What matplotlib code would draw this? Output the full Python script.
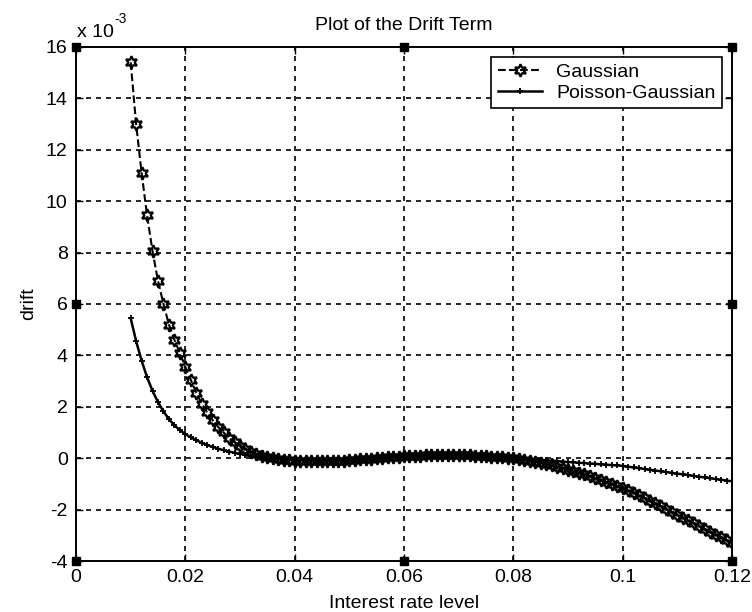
import numpy as np
import matplotlib.pyplot as plt

# interest rate grid (step 0.001)
rate = [round(0.010 + 0.001 * i, 3) for i in range(111)]

# drift values, in units of 1e-3
gaussian = [
    15.4, 13.0, 11.1, 9.45, 8.05, 6.9, 6.0, 5.2, 4.6, 4.1,
    3.55, 3.05, 2.55, 2.12, 1.78, 1.48, 1.22, 1.0, 0.8, 0.63,
    0.48, 0.36, 0.26, 0.17, 0.1, 0.04, 0.0, -0.03, -0.06, -0.08,
    -0.09, -0.1, -0.11, -0.12, -0.12, -0.12, -0.11, -0.11, -0.1, -0.09,
    -0.08, -0.06, -0.05, -0.03, -0.02, 0.0, 0.01, 0.03, 0.04, 0.06,
    0.07, 0.08, 0.09, 0.1, 0.11, 0.12, 0.12, 0.13, 0.13, 0.13,
    0.12, 0.12, 0.11, 0.1, 0.09, 0.08, 0.06, 0.05, 0.03, 0.01,
    -0.01, -0.04, -0.07, -0.1, -0.14, -0.18, -0.23, -0.28, -0.33, -0.39,
    -0.45, -0.51, -0.57, -0.63, -0.7, -0.77, -0.84, -0.91, -0.99, -1.07,
    -1.15, -1.24, -1.34, -1.44, -1.54, -1.65, -1.75, -1.86, -1.97, -2.08,
    -2.2, -2.31, -2.42, -2.53, -2.64, -2.75, -2.86, -2.97, -3.08, -3.19,
    -3.3,
]
poisson_gaussian = [
    5.45, 4.55, 3.8, 3.15, 2.62, 2.18, 1.82, 1.52, 1.28, 1.09,
    0.94, 0.81, 0.7, 0.6, 0.51, 0.44, 0.37, 0.31, 0.26, 0.21,
    0.17, 0.13, 0.09, 0.06, 0.03, 0.01, -0.01, -0.03, -0.05, -0.06,
    -0.07, -0.08, -0.09, -0.1, -0.1, -0.1, -0.1, -0.09, -0.09, -0.08,
    -0.07, -0.06, -0.05, -0.03, -0.02, 0.0, 0.01, 0.02, 0.04, 0.05,
    0.06, 0.07, 0.08, 0.09, 0.1, 0.1, 0.11, 0.11, 0.11, 0.11,
    0.11, 0.1, 0.1, 0.09, 0.08, 0.07, 0.06, 0.05, 0.03, 0.02,
    0.0, -0.01, -0.02, -0.04, -0.05, -0.07, -0.08, -0.1, -0.11, -0.13,
    -0.15, -0.16, -0.18, -0.19, -0.21, -0.22, -0.24, -0.25, -0.27, -0.28,
    -0.3, -0.33, -0.36, -0.39, -0.42, -0.45, -0.48, -0.51, -0.54, -0.57,
    -0.6, -0.63, -0.66, -0.69, -0.72, -0.75, -0.78, -0.81, -0.84, -0.87,
    -0.9,
]

xticks = [0, 0.02, 0.04, 0.06, 0.08, 0.1, 0.12]
xtick_labels = ["0", "0.02", "0.04", "0.06", "0.08", "0.1", "0.12"]
yticks = [-4, -2, 0, 2, 4, 6, 8, 10, 12, 14, 16]

# little square handles left on the figure (edit-mode anchors)
handle_x = [0, 0, 0, 0.06, 0.06, 0.12, 0.12, 0.12]
handle_y = [16, 6, -4, 16, -4, 16, 6, -4]

plt.rcParams['font.family'] = ['Liberation Sans', 'DejaVu Sans']
plt.rcParams['axes.unicode_minus'] = False

fig = plt.figure(figsize=(7.52, 6.12), dpi=100)
ax = fig.add_axes([76 / 752, 1 - 561 / 612, 656 / 752, 514 / 612])

ax.plot(rate, gaussian, '--', color='black', lw=1.5,
        marker=(6, 1, 0), markersize=9, markerfacecolor='none',
        markeredgecolor='black', markeredgewidth=1.6, label='Gaussian')
ax.plot(rate, poisson_gaussian, '-', color='black', lw=1.8,
        marker='+', markersize=5, markeredgewidth=1.3,
        label='Poisson-Gaussian')

ax.plot(handle_x, handle_y, 's', color='black', markersize=6, clip_on=False)

ax.set_xlim(0, 0.12)
ax.set_ylim(-4, 16)
ax.set_xticks(xticks)
ax.set_xticklabels(xtick_labels)
ax.set_yticks(yticks)
ax.tick_params(direction='in', top=True, right=True, length=5,
               labelsize=14, width=1, pad=6)
ax.grid(True, color='black', linestyle=(0, (3, 3)), linewidth=1.2)
for s in ax.spines.values():
    s.set_linewidth(1.4)

ax.set_title("Plot of the Drift Term", fontsize=14, pad=12)
ax.set_xlabel("Interest rate level", fontsize=14, labelpad=6)
ax.set_ylabel("drift", fontsize=14, labelpad=6)
ax.text(0.002, 1.012, "x 10", transform=ax.transAxes, fontsize=14,
        ha='left', va='bottom')
ax.text(0.058, 1.04, "-3", transform=ax.transAxes, fontsize=10,
        ha='left', va='bottom')

leg = ax.legend(loc='upper right', fontsize=14, fancybox=False,
                edgecolor='black', framealpha=1, borderaxespad=0.5,
                handlelength=2.3, handletextpad=0.7, borderpad=0.35,
                labelspacing=0.15)
leg.get_frame().set_linewidth(1.2)

fig.savefig("out.png", dpi=100)
